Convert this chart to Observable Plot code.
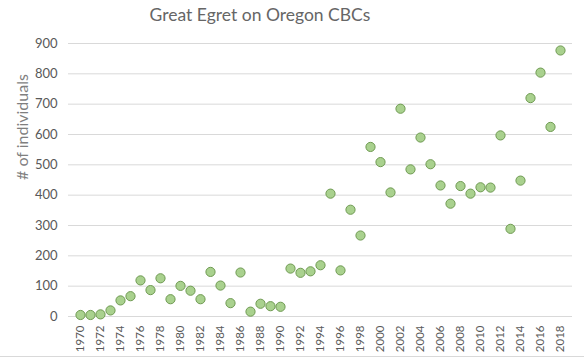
<!DOCTYPE html>
<html>
<head>
<meta charset="utf-8">
<script src="https://cdn.jsdelivr.net/npm/d3@7"></script>
<script src="https://cdn.jsdelivr.net/npm/@observablehq/plot@0.6"></script>
<style>
  html, body { margin: 0; padding: 0; background: #fff; }
  #wrap { position: relative; width: 584px; height: 359px; overflow: hidden; }
  #title { height: 28px; line-height: 30px; font-family: Lato, "Open Sans", sans-serif; font-size: 17.5px; color: #666666; text-align: center; width: 520px; }
  #border { position: absolute; left: 0; top: 356px; width: 584px; height: 0; border-top: 1px solid #d9d9d9; }
</style>
</head>
<body>
<div id="wrap">
  <div id="title">Great Egret on Oregon CBCs</div>
  <div id="chart"></div>
  <div id="border"></div>
</div>
<script>
const years = d3.range(1970, 2019);
const counts = [
  5, 5, 7, 20, 53, 67, 119, 87, 126, 57,
  101, 85, 57, 147, 102, 44, 145, 16, 42, 34,
  32, 158, 144, 149, 169, 405, 152, 352, 267, 559,
  509, 409, 685, 485, 590, 502, 432, 372, 430, 405,
  426, 425, 597, 289, 448, 720, 804, 625, 877
];
const yTicks = [0, 100, 200, 300, 400, 500, 600, 700, 800, 900];
const xTicks = years.filter(y => y % 2 === 0);
const yLabel = "# of individuals";

const data = years.map((y, i) => ({year: y, count: counts[i]}));

const chart = Plot.plot({
  width: 584,
  height: 331,
  marginTop: 15,
  marginBottom: 43,
  marginLeft: 68,
  marginRight: 12,
  style: {fontFamily: "Lato, 'Open Sans', sans-serif", color: "#595959", background: "#fff"},
  x: {type: "point", domain: years, padding: 0.5},
  y: {domain: [0, 900]},
  marks: [
    Plot.gridY(yTicks, {stroke: "#d9d9d9", strokeOpacity: 1}),
    Plot.axisY(yTicks, {tickSize: 0, tickPadding: 11, fontSize: 13, label: null, fill: "#595959"}),
    Plot.axisX(xTicks, {tickSize: 0, tickPadding: 9, tickRotate: -90, fontSize: 11.5, label: null, fill: "#595959", tickFormat: d => String(d)}),
    Plot.text([yLabel], {frameAnchor: "left", dx: -46, rotate: -90, fontSize: 16, fill: "#7f7f7f", text: d => d}),
    Plot.dot(data, {x: "year", y: "count", r: 4.6, fill: "#a9d18e", stroke: "#6f9a52", strokeWidth: 1})
  ]
});
document.getElementById("chart").appendChild(chart);
</script>
</body>
</html>
